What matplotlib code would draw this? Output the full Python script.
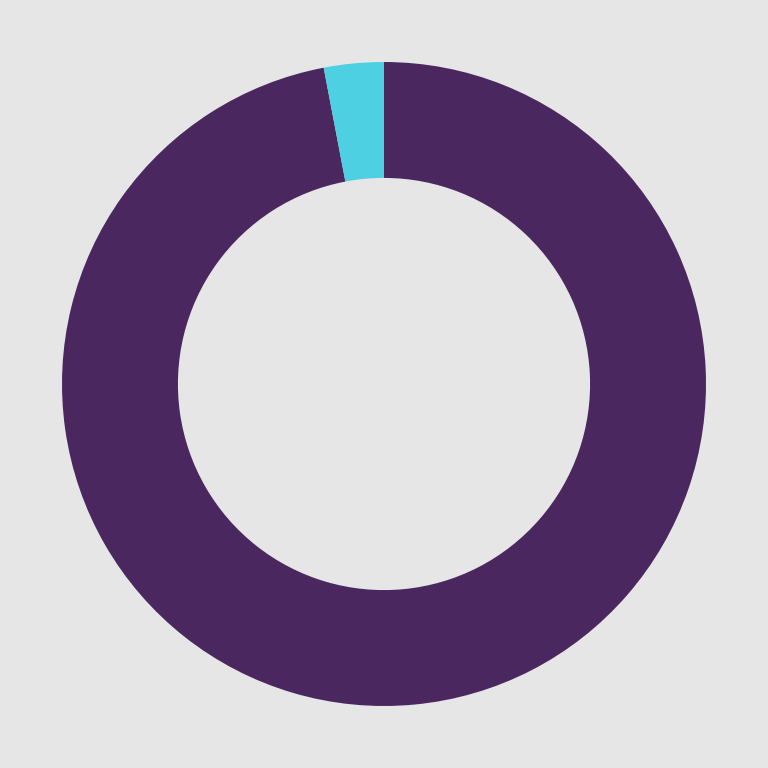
import matplotlib
matplotlib.use("Agg")
from matplotlib import pyplot as plt

labels = ["Other", "Highlight"]
shares = [97.0, 3.0]
colors = ["#4a275f", "#4dd0e1"]

BG = "#e6e6e6"

fig = plt.figure(figsize=(7.68, 7.68), dpi=100, facecolor=BG)
ax = fig.add_axes([0, 0, 1, 1])
ax.set_facecolor(BG)

ax.pie(shares, colors=colors, startangle=90, counterclock=False,
       radius=1.0, wedgeprops=dict(width=0.36, edgecolor="none"))

lim = 384 / 322
ax.set_xlim(-lim, lim)
ax.set_ylim(-lim, lim)
ax.set_aspect("equal")
ax.axis("off")

fig.savefig("out.png", facecolor=BG)
